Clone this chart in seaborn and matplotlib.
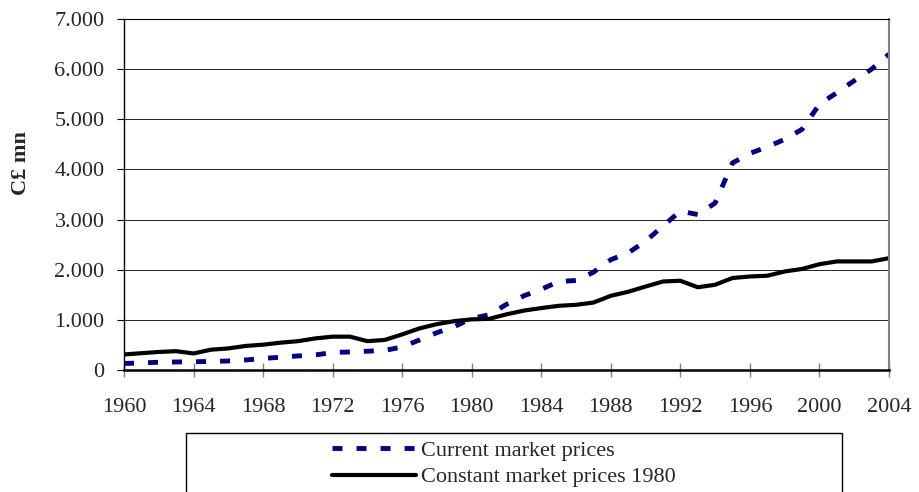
import pandas as pd
import seaborn as sns
import matplotlib.pyplot as plt
from matplotlib.patches import Rectangle

# Datos (millones C£)
years = list(range(1960, 2005))
current = [130, 140, 155, 160, 165, 170, 180, 200, 230, 255,
           280, 300, 350, 360, 375, 390, 460, 600, 745, 865,
           1030, 1100, 1310, 1480, 1610, 1765, 1785, 1950, 2200, 2335,
           2570, 2870, 3170, 3100, 3330, 4130, 4320, 4450, 4600, 4800,
           5300, 5530, 5770, 6000, 6300]
constant = [310, 335, 360, 375, 330, 405, 430, 480, 505, 545,
            575, 630, 665, 665, 575, 600, 710, 830, 915, 975,
            1010, 1020, 1110, 1185, 1235, 1280, 1300, 1345, 1480, 1560,
            1665, 1765, 1780, 1650, 1700, 1835, 1865, 1880, 1965, 2015,
            2110, 2165, 2165, 2165, 2230]
labels = ['Current market prices', 'Constant market prices 1980']
xticks = list(range(1960, 2005, 4))
yticks = list(range(0, 7001, 1000))

df = pd.DataFrame({'year': years, labels[0]: current, labels[1]: constant})

sns.set_style('white')
plt.rcParams['font.family'] = ['Liberation Serif', 'DejaVu Serif']

fig = plt.figure(figsize=(9.19, 4.92), dpi=100)
ax = fig.add_axes([124 / 919, 1 - 370 / 492, 765 / 919, 351 / 492])

# Series
lw_cur = 3.5
sns.lineplot(data=df, x='year', y=labels[0], ax=ax, color='#000080', lw=lw_cur,
             linestyle=(0, (7.2 / lw_cur, 10.1 / lw_cur)), label=labels[0])
sns.lineplot(data=df, x='year', y=labels[1], ax=ax, color='black', lw=3,
             label=labels[1])

# Ejes
ax.set_xlim(1960, 2004)
ax.set_ylim(0, 7000)
ax.set_xticks(xticks)
ax.set_yticks(yticks)
ax.set_yticklabels([f'{v:,}'.replace(',', '.') for v in yticks])
ax.set_xlabel('')
ax.set_ylabel('C£ mn', fontsize=16, fontweight='bold', va='center')
ax.yaxis.set_label_coords(-0.1346, 0.59)

ax.tick_params(axis='x', direction='inout', length=10, width=1, color='#808080',
               pad=15, labelsize=16, bottom=True)
ax.tick_params(axis='y', direction='out', length=5, width=0.8, color='black',
               pad=9, labelsize=16, left=True)

ax.yaxis.grid(True, color='#222222', lw=0.7)
ax.xaxis.grid(False)

ax.spines['bottom'].set_linewidth(1.8)
ax.spines['bottom'].set_color('black')
ax.spines['left'].set_linewidth(1)
ax.spines['left'].set_color('black')
ax.spines['top'].set_linewidth(0.8)
ax.spines['top'].set_color('black')
ax.spines['right'].set_linewidth(1.5)
ax.spines['right'].set_color('#808080')

# Leyenda con marco propio
ax.legend(loc='upper left', bbox_to_anchor=(332 / 919, 1 - 440 / 492),
          bbox_transform=fig.transFigure, frameon=False, fontsize=16,
          handlelength=3.8, handletextpad=0.2, labelspacing=0.28,
          borderpad=0, borderaxespad=0)
fig.add_artist(Rectangle((186 / 919, -0.1), (842 - 186) / 919, 0.1 + 1 - 433 / 492,
                         transform=fig.transFigure, fill=False, ec='black', lw=1))

plt.savefig('out.png', dpi=100)
